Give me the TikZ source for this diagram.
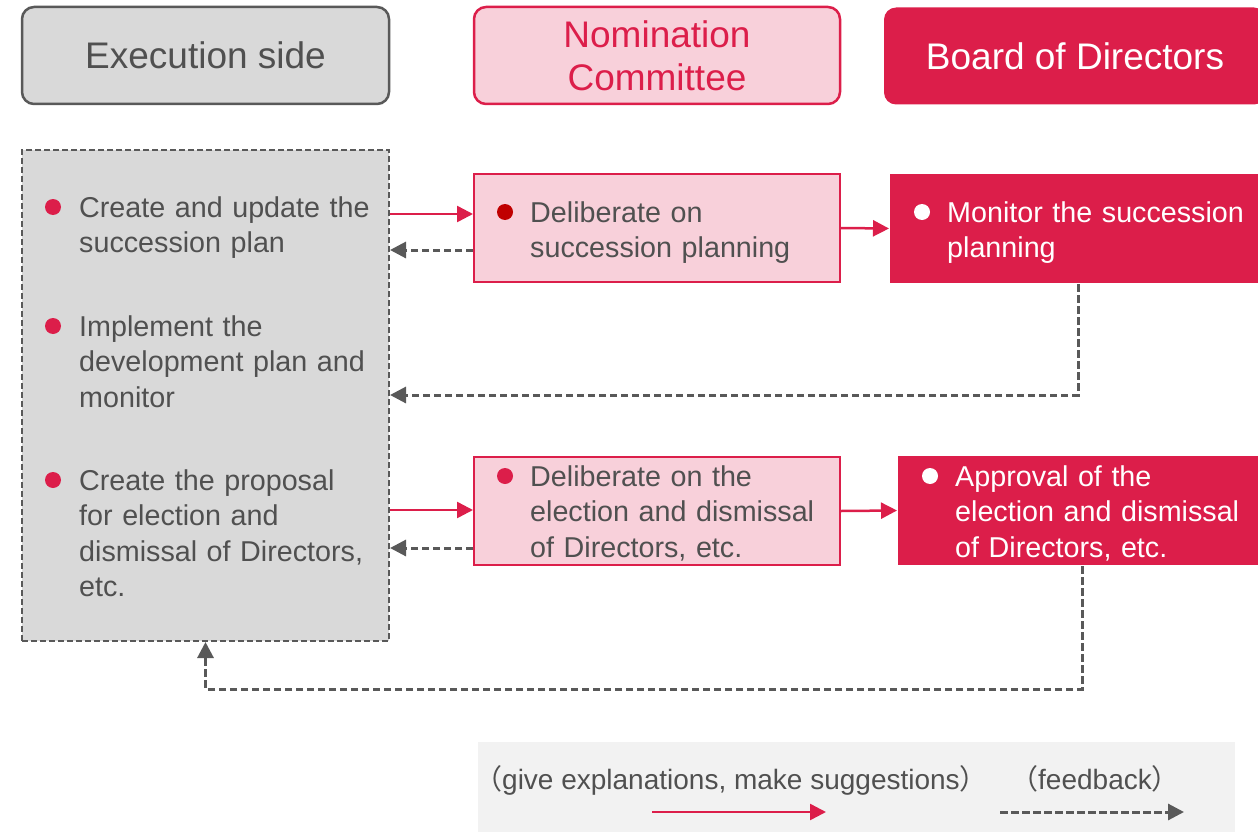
\documentclass[tikz,border=0pt]{standalone}
\usepackage{fontspec}
\setmainfont{Liberation Sans}
\newfontfamily\cjk{Noto Sans CJK SC}
\usetikzlibrary{positioning}
\usetikzlibrary{arrows.meta}
\definecolor{crimson}{RGB}{220,30,74}
\definecolor{blush}{RGB}{248,208,218}
\definecolor{ash}{RGB}{217,217,217}
\definecolor{slate}{RGB}{89,89,89}
\definecolor{ink}{RGB}{80,80,80}
\definecolor{paper}{RGB}{242,242,242}
\definecolor{darkred}{RGB}{192,0,0}
\tikzset{>={Triangle[width=16pt,length=16pt]}}

\begin{document}
\begin{tikzpicture}[x=1pt,y=-1pt]
% Define styles
\tikzstyle{head} = [rounded corners=12pt, line width=2.5pt, minimum height=97pt, inner sep=0pt, align=center, font=\fontsize{37}{43}\selectfont]
\tikzstyle{panel} = [inner sep=0pt, line width=2pt]
\tikzstyle{item} = [anchor=base west, inner sep=0pt, text width=320pt, align=left, font=\fontsize{28.7}{35.5}\selectfont]
\tikzstyle{dot} = [circle, inner sep=0pt, minimum size=16pt]
\tikzstyle{push} = [->, crimson, line width=2.5pt]
\tikzstyle{back} = [->, slate, line width=3pt, dash pattern=on 7.5pt off 3.5pt]
\path[use as bounding box, clip] (0,0) rectangle (1258,832);
% Define nodes
\node[head, draw=slate, fill=ash, text=ink, minimum width=367pt] (execHead) at (205.5,55.5) {Execution side};
\node[head, draw=crimson, fill=blush, text=crimson, minimum width=366pt] (nomHead) at (657,55.5) {Nomination\\Committee};
\node[head, fill=crimson, text=white, minimum width=382pt] (boardHead) at (1075,56) {Board of Directors};
\node[panel, draw=slate, fill=ash, dash pattern=on 6pt off 3pt, minimum width=367pt, minimum height=491pt] (exec) at (205.5,395.5) {};
\node[panel, draw=crimson, fill=blush, minimum width=366pt, minimum height=108pt] (nomA) at (657,228) {};
\node[panel, fill=crimson, minimum width=376pt, minimum height=109pt] (boardA) at (1078,228.5) {};
\node[panel, draw=crimson, fill=blush, minimum width=366pt, minimum height=108pt] (nomB) at (657,511) {};
\node[panel, fill=crimson, minimum width=368pt, minimum height=109pt] (boardB) at (1082,510.5) {};
% Items
\node[dot, fill=crimson] (dotPlan) at (53,207) {};
\node[item, text=ink] (plan) at (79,217) {Create and update the\\succession plan};
\node[dot, fill=crimson] (dotDev) at (53,326) {};
\node[item, text=ink] (dev) at (79,336) {Implement the\\development plan and\\monitor};
\node[dot, fill=crimson] (dotProp) at (53,480) {};
\node[item, text=ink] (prop) at (79,490) {Create the proposal\\for election and\\dismissal of Directors,\\etc.};
\node[dot, fill=darkred] (dotNomA) at (505,212) {};
\node[item, text=ink] (textNomA) at (530,222) {Deliberate on\\succession planning};
\node[dot, fill=white] (dotBoardA) at (922,212) {};
\node[item, text=white] (textBoardA) at (947,222) {Monitor the succession\\planning};
\node[dot, fill=crimson] (dotNomB) at (505,476) {};
\node[item, text=ink] (textNomB) at (530,486) {Deliberate on the\\election and dismissal\\of Directors, etc.};
\node[dot, fill=white] (dotBoardB) at (930,476) {};
\node[item, text=white] (textBoardB) at (955,486) {Approval of the\\election and dismissal\\of Directors, etc.};
% Legend
\node[panel, fill=paper, minimum width=757pt, minimum height=100pt] (legend) at (856.5,792) {};
\node[anchor=base west, inner sep=0pt, text=ink, font=\fontsize{28}{34}\selectfont] (pushLabel) at (474,789) {{\cjk （}give explanations, make suggestions{\cjk ）}};
\node[anchor=base west, inner sep=0pt, text=ink, font=\fontsize{28}{34}\selectfont] (backLabel) at (1010,789) {{\cjk （}feedback{\cjk ）}};
\coordinate (pushL) at (652,812);
\coordinate (pushR) at (826,812);
\coordinate (backL) at (1000,812);
\coordinate (backR) at (1184,812);
% Connect the nodes
\draw[push] (exec.east |- 0,214) -- (nomA.west |- 0,214);
\draw[back] (nomA.west |- 0,250) -- (exec.east |- 0,250);
\draw[push] (nomA.east) -- (boardA.west);
\draw[back] (boardA.south) |- (exec.east |- 0,395);
\draw[push] (exec.east |- 0,510) -- (nomB.west |- 0,510);
\draw[back] (nomB.west |- 0,548) -- (exec.east |- 0,548);
\draw[push] (nomB.east) -- (boardB.west);
\draw[back] (boardB.south) -- ++(0,123) -| (exec.south);
\draw[push] (pushL) -- (pushR);
\draw[back] (backL) -- (backR);
\end{tikzpicture}
\end{document}
